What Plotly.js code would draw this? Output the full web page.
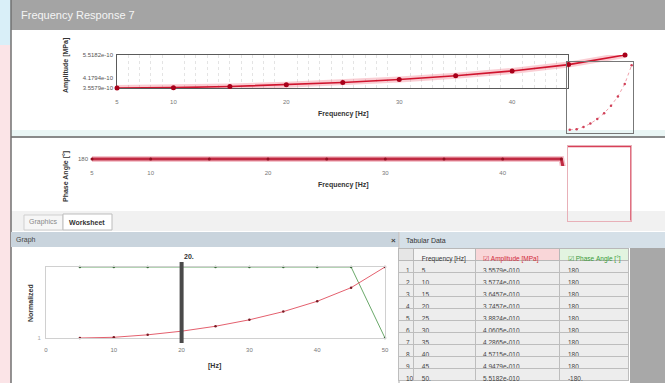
<!DOCTYPE html>
<html>
<head>
<meta charset="utf-8">
<script src="https://cdn.plot.ly/plotly-3.0.1.min.js"></script>
<style>html,body{margin:0;padding:0;background:#fff;}#chart{width:665px;height:383px;}</style>
</head>
<body>
<div id="chart"></div>
<script>
// ---- data ----
const freq = [5, 10, 15, 20, 25, 30, 35, 40, 45, 50];
const amplitude = [3.5579e-10, 3.5774e-10, 3.6457e-10, 3.7457e-10, 3.8824e-10, 4.0605e-10, 4.2865e-10, 4.5715e-10, 4.9479e-10, 5.5182e-10];
const phase = [180, 180, 180, 180, 180, 180, 180, 180, 180, -180];
const ampTickVals = [3.5579e-10, 4.1794e-10, 5.5182e-10];
const ampTickText = ['3.5579e-10', '4.1794e-10', '5.5182e-10'];
const freqTicks = [5, 10, 20, 30, 40];
const graphTicks = [0, 10, 20, 30, 40, 50];
const tableHeaders = ['', 'Frequency [Hz]', '☑ Amplitude [MPa]', '☑ Phase Angle [°]'];
const cursorFreq = 20;

// ---- helpers ----
const W = 665, H = 383;
const px = v => v / W;
const py = v => 1 - v / H;
const aMin = Math.min(...amplitude), aMax = Math.max(...amplitude);
const pMin = Math.min(...phase), pMax = Math.max(...phase);
const ampNorm = amplitude.map(a => (a - aMin) / (aMax - aMin));
const phaseNorm = phase.map(p => (p - pMin) / (pMax - pMin));
const FONT = 'Liberation Sans, Arial, sans-serif';
const nb = s => s.replace(/ /g, '\u00a0');

const traces = [
  // grid subplot (dummy)
  {x: [], y: [], xaxis: 'x', yaxis: 'y', type: 'scatter', mode: 'lines', showlegend: false, hoverinfo: 'skip'},
  // amplitude glow + line
  {x: freq, y: amplitude, xaxis: 'x2', yaxis: 'y2', type: 'scatter', mode: 'lines',
   line: {color: 'rgba(240,90,110,0.3)', width: 6}, showlegend: false, hoverinfo: 'skip'},
  {x: freq, y: amplitude, xaxis: 'x2', yaxis: 'y2', type: 'scatter', mode: 'lines+markers',
   line: {color: '#d0142e', width: 1.6}, marker: {color: '#a8001a', size: 5}, cliponaxis: false, showlegend: false},
  // phase
  {x: freq, y: phase, xaxis: 'x3', yaxis: 'y3', type: 'scatter', mode: 'lines',
   line: {color: 'rgba(230,110,130,0.4)', width: 6}, showlegend: false, hoverinfo: 'skip'},
  {x: freq, y: phase, xaxis: 'x3', yaxis: 'y3', type: 'scatter', mode: 'lines+markers',
   line: {color: '#c02a42', width: 3}, marker: {color: '#901020', size: 3}, cliponaxis: false, showlegend: false},
  // normalized graph
  {x: freq, y: phaseNorm, xaxis: 'x4', yaxis: 'y4', type: 'scatter', mode: 'lines+markers',
   line: {color: '#6aa86a', width: 1}, marker: {color: '#3d6b3d', size: 2.5}, cliponaxis: false, showlegend: false},
  {x: freq, y: ampNorm, xaxis: 'x4', yaxis: 'y4', type: 'scatter', mode: 'lines+markers',
   line: {color: '#e4606e', width: 1}, marker: {color: '#7a1a24', size: 2.5}, cliponaxis: false, showlegend: false},
  // amplitude inset
  {x: freq, y: amplitude, xaxis: 'x5', yaxis: 'y5', type: 'scatter', mode: 'lines+markers',
   line: {color: '#f0a0aa', width: 1, dash: 'dot'}, marker: {color: '#d04058', size: 2.5}, cliponaxis: false, showlegend: false},
  // phase inset
  {x: freq, y: phase, xaxis: 'x6', yaxis: 'y6', type: 'scatter', mode: 'lines',
   line: {color: '#d84058', width: 1.5, shape: 'hv'}, showlegend: false},
  // tabular data
  {type: 'table', domain: {x: [px(398), px(630)], y: [0, py(248)]},
   columnwidth: [16, 62, 86, 70],
   header: {values: tableHeaders.map(nb),
            align: 'left', height: 12,
            fill: {color: [['#e6e6e6'], ['#f4f4f4'], ['#f9d6d8'], ['#e2f4e0']]},
            line: {color: '#b8b8b8', width: 1},
            font: {family: FONT, size: 6.5, color: [['#333'], ['#333'], ['#d02a3a'], ['#3a9a3a']]}},
   cells: {values: [freq.map((f, i) => String(i + 1)), freq.map(f => f + '.'),
                    amplitude.map(a => a.toExponential(4).replace('e-10', 'e-010')),
                    phase.map(p => String(p) + '.')],
           align: 'left', height: 12,
           fill: {color: '#ededed'}, line: {color: '#bdbdbd', width: 1},
           font: {family: FONT, size: 6.5, color: '#444'}}}
];

const noAxis = {showgrid: false, zeroline: false, showline: false, showticklabels: false, ticks: ''};

const layout = {
  width: W, height: H, autosize: false,
  margin: {l: 0, r: 0, t: 0, b: 0, pad: 0},
  paper_bgcolor: '#ffffff', plot_bgcolor: 'rgba(0,0,0,0)',
  font: {family: FONT, size: 7, color: '#444'},
  showlegend: false,
  // grid/frame for amplitude
  xaxis: {domain: [px(117), px(568)], range: [5, 45], anchor: 'y', showticklabels: false, ticks: '',
          showgrid: false, zeroline: false, showline: true, mirror: true, linecolor: '#5a5a5a', linewidth: 1,
          minor: {dtick: 1, showgrid: true, gridcolor: '#e4e4e4', griddash: 'dot'}},
  yaxis: {domain: [py(88), py(55)], range: [aMin, aMax], anchor: 'x', showticklabels: false, ticks: '',
          showgrid: false, zeroline: false, showline: true, mirror: true, linecolor: '#5a5a5a', linewidth: 1,
          minor: {nticks: 8, showgrid: true, gridcolor: '#e2e2e2'}},
  // amplitude data
  xaxis2: {domain: [px(117), px(625)], range: [5, 50], anchor: 'y2', tickvals: freqTicks,
           showgrid: false, zeroline: false, showline: false, ticks: '', ticklabelstandoff: 9,
           tickfont: {size: 6, color: '#777'}},
  yaxis2: {domain: [py(88), py(55)], range: [aMin, aMax], anchor: 'x2', tickvals: ampTickVals, ticktext: ampTickText,
           showgrid: false, zeroline: false, showline: false, ticks: '', ticklabelstandoff: 3,
           tickfont: {size: 6, color: '#555'}},
  // phase
  xaxis3: {domain: [px(92), px(620)], range: [5, 50], anchor: 'y3', tickvals: freqTicks,
           showgrid: false, zeroline: false, showline: false, ticks: '', ticklabelstandoff: 2,
           tickfont: {size: 6, color: '#777'}},
  yaxis3: {domain: [py(166), py(152)], range: [171, 189], anchor: 'x3', tickvals: [180], ticktext: ['180'],
           showgrid: false, zeroline: false, showline: false, ticks: '', ticklabelstandoff: 3,
           tickfont: {size: 6, color: '#666'}},
  // normalized graph
  xaxis4: {domain: [px(46), px(385)], range: [0, 50], anchor: 'y4', tickvals: graphTicks,
           showgrid: false, zeroline: false, showline: true, mirror: true, linecolor: '#d0d0d0', linewidth: 1,
           ticks: '', ticklabelstandoff: 6, tickfont: {size: 6, color: '#777'}},
  yaxis4: {domain: [py(338), py(267)], range: [0, 1], anchor: 'x4', tickvals: [0], ticktext: ['1'],
           showgrid: false, zeroline: false, showline: true, mirror: true, linecolor: '#d0d0d0', linewidth: 1,
           ticks: '', ticklabelstandoff: 3, tickfont: {size: 6, color: '#aaa'}},
  // amplitude inset
  xaxis5: Object.assign({domain: [px(567), px(633)], range: [3, 51], anchor: 'y5'}, noAxis,
           {showline: true, mirror: true, linecolor: '#777', linewidth: 1}),
  yaxis5: Object.assign({domain: [py(133), py(62)], range: [aMin - 0.05 * (aMax - aMin), aMax + 0.05 * (aMax - aMin)], anchor: 'x5'}, noAxis,
           {showline: true, mirror: true, linecolor: '#777', linewidth: 1}),
  // phase inset
  xaxis6: Object.assign({domain: [px(568), px(631)], range: [45, 50], anchor: 'y6'}, noAxis,
           {showline: true, mirror: true, linecolor: '#e8b0b8', linewidth: 1}),
  yaxis6: Object.assign({domain: [py(221), py(146)], range: [-183, 183], anchor: 'x6'}, noAxis,
           {showline: true, mirror: true, linecolor: '#e8b0b8', linewidth: 1}),
  shapes: [
    // left strip
    {type: 'rect', xref: 'paper', yref: 'paper', x0: 0, x1: px(11), y0: 0, y1: 1, fillcolor: '#fbe4e7', line: {width: 0}, layer: 'below'},
    {type: 'rect', xref: 'paper', yref: 'paper', x0: 0, x1: px(11), y0: py(45), y1: 1, fillcolor: '#d9eff8', line: {width: 0}, layer: 'below'},
    // title bar
    {type: 'rect', xref: 'paper', yref: 'paper', x0: px(11), x1: 1, y0: py(30), y1: 1, fillcolor: '#a4a4a4', line: {width: 0}, layer: 'below'},
    // separator band between plots
    {type: 'rect', xref: 'paper', yref: 'paper', x0: px(11), x1: 1, y0: py(136), y1: py(130), fillcolor: '#eaf6f5', line: {width: 0}, layer: 'below'},
    {type: 'line', xref: 'paper', yref: 'paper', x0: px(11), x1: 1, y0: py(137), y1: py(137), line: {color: '#8a8a8a', width: 2}, layer: 'below'},
    // tabs area
    {type: 'rect', xref: 'paper', yref: 'paper', x0: px(11), x1: 1, y0: py(231), y1: py(211), fillcolor: '#f1f1f1', line: {width: 0}, layer: 'below'},
    {type: 'rect', xref: 'paper', yref: 'paper', x0: px(24), x1: px(63), y0: py(230), y1: py(215), fillcolor: '#f6f6f6', line: {color: '#cfcfcf', width: 1}, layer: 'below'},
    {type: 'rect', xref: 'paper', yref: 'paper', x0: px(63), x1: px(112), y0: py(230), y1: py(214), fillcolor: '#ffffff', line: {color: '#bdbdbd', width: 1}, layer: 'below'},
    // panel left border
    {type: 'line', xref: 'paper', yref: 'paper', x0: px(11), x1: px(11), y0: py(383), y1: py(0), line: {color: '#707070', width: 1.5}, layer: 'below'},
    // Graph header bar
    {type: 'rect', xref: 'paper', yref: 'paper', x0: px(11), x1: px(399), y0: py(247), y1: py(232), fillcolor: '#c9d4dd', line: {width: 0}, layer: 'below'},
    // Tabular header bar
    {type: 'rect', xref: 'paper', yref: 'paper', x0: px(400), x1: 1, y0: py(248), y1: py(232), fillcolor: '#d5e0e8', line: {width: 0}, layer: 'below'},
    // divider between panels
    {type: 'line', xref: 'paper', yref: 'paper', x0: px(399), x1: px(399), y0: 0, y1: py(232), line: {color: '#c4c4c4', width: 1.5}, layer: 'below'},
    // tabular gray area
    {type: 'rect', xref: 'paper', yref: 'paper', x0: px(630), x1: 1, y0: 0, y1: py(248), fillcolor: '#a8a8a8', line: {width: 0}, layer: 'below'},
    // cursor line at 20 Hz
    {type: 'line', xref: 'x4', yref: 'paper', x0: cursorFreq, x1: cursorFreq, y0: py(343), y1: py(262), line: {color: '#4a4a4a', width: 4}}
  ],
  annotations: [
    {text: 'Frequency Response 7', xref: 'paper', yref: 'paper', x: px(19), y: py(15), xanchor: 'left', yanchor: 'middle', showarrow: false,
     font: {size: 11, color: '#f4f4f4', family: FONT}},
    {text: '<b>Frequency [Hz]</b>', xref: 'paper', yref: 'paper', x: px(343), y: py(114), xanchor: 'center', yanchor: 'middle', showarrow: false, font: {size: 7, color: '#333'}},
    {text: '<b>Frequency [Hz]</b>', xref: 'paper', yref: 'paper', x: px(343), y: py(185), xanchor: 'center', yanchor: 'middle', showarrow: false, font: {size: 7, color: '#333'}},
    {text: '<b>Amplitude [MPa]</b>', xref: 'paper', yref: 'paper', x: px(66), y: py(66), textangle: -90, xanchor: 'center', yanchor: 'middle', showarrow: false, font: {size: 7, color: '#333'}},
    {text: '<b>Phase Angle [°]</b>', xref: 'paper', yref: 'paper', x: px(66), y: py(177), textangle: -90, xanchor: 'center', yanchor: 'middle', showarrow: false, font: {size: 7, color: '#333'}},
    {text: 'Graphics', xref: 'paper', yref: 'paper', x: px(43), y: py(222), xanchor: 'center', yanchor: 'middle', showarrow: false, font: {size: 7, color: '#888'}},
    {text: '<b>Worksheet</b>', xref: 'paper', yref: 'paper', x: px(87), y: py(222), xanchor: 'center', yanchor: 'middle', showarrow: false, font: {size: 7, color: '#333'}},
    {text: 'Graph', xref: 'paper', yref: 'paper', x: px(14), y: py(240), xanchor: 'left', yanchor: 'middle', showarrow: false, font: {size: 7, color: '#444'}},
    {text: '<b>×</b>', xref: 'paper', yref: 'paper', x: px(393), y: py(240), xanchor: 'center', yanchor: 'middle', showarrow: false, font: {size: 8, color: '#444'}},
    {text: 'Tabular Data', xref: 'paper', yref: 'paper', x: px(404), y: py(240), xanchor: 'left', yanchor: 'middle', showarrow: false, font: {size: 7, color: '#333'}},
    {text: '<b>Normalized</b>', xref: 'paper', yref: 'paper', x: px(30), y: py(303), textangle: -90, xanchor: 'center', yanchor: 'middle', showarrow: false, font: {size: 7, color: '#333'}},
    {text: '<b>[Hz]</b>', xref: 'paper', yref: 'paper', x: px(214), y: py(366), xanchor: 'center', yanchor: 'middle', showarrow: false, font: {size: 7, color: '#333'}},
    {text: '<b>' + cursorFreq + '.</b>', xref: 'x4', yref: 'paper', x: cursorFreq, y: py(256), xanchor: 'left', yanchor: 'middle', showarrow: false, font: {size: 7, color: '#333'}}
  ]
};

Plotly.newPlot('chart', traces, layout, {staticPlot: true, displayModeBar: false});
</script>
</body>
</html>
